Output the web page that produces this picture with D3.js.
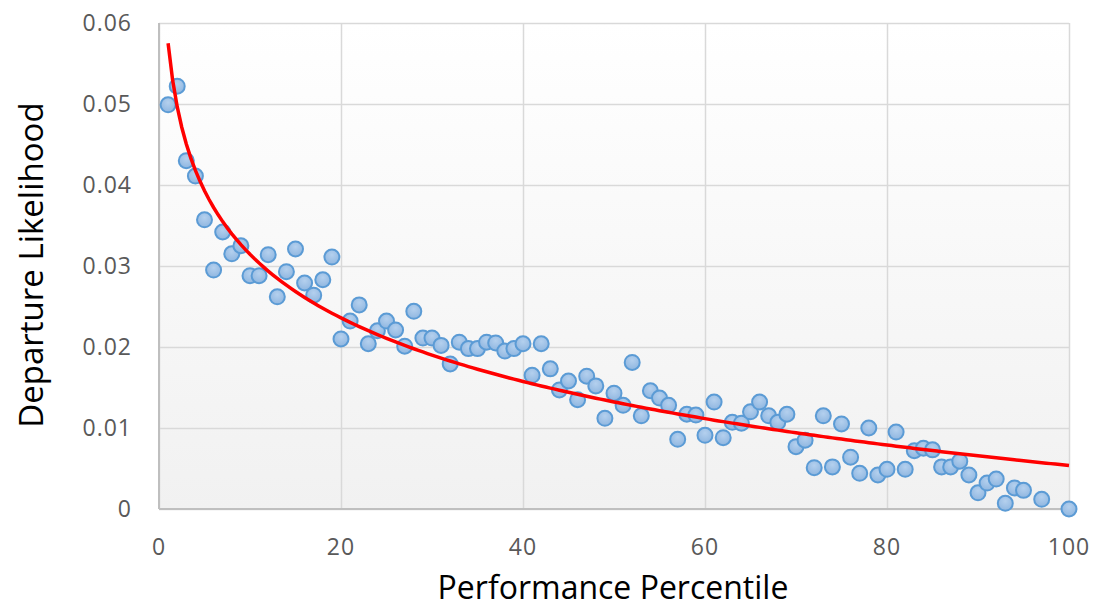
<!DOCTYPE html>
<html>
<head>
<meta charset="utf-8">
<script src="https://cdn.jsdelivr.net/npm/d3@7"></script>
<style>
  body { margin: 0; background: #fff; }
  text { font-family: "Open Sans", sans-serif; }
</style>
</head>
<body>
<div id="chart"></div>
<script>
// percentile (x) and departure likelihood (y)
var percentile = [1,2,3,4,5,6,7,8,9,10,11,12,13,14,15,16,17,18,19,20,
  21,22,23,24,25,26,27,28,29,30,31,32,33,34,35,36,37,38,39,40,
  41,42,43,44,45,46,47,48,49,50,51,52,53,54,55,56,57,58,59,60,
  61,62,63,64,65,66,67,68,69,70,71,72,73,74,75,76,77,78,79,80,
  81,82,83,84,85,86,87,88,89,90,91,92,93,94,95,97,100]
var likelihood = [0.0499,0.0522,0.0430,0.0411,0.0357,0.0295,0.0342,0.0315,0.0325,0.0288,
  0.0288,0.0314,0.0262,0.0293,0.0321,0.0279,0.0264,0.0283,0.0311,0.0210,
  0.0232,0.0252,0.0204,0.0220,0.0232,0.0221,0.0201,0.0244,0.0211,0.0211,
  0.0202,0.0179,0.0206,0.0198,0.0198,0.0206,0.0205,0.0195,0.0198,0.0204,
  0.0165,0.0204,0.0173,0.0147,0.0158,0.0135,0.0164,0.0152,0.0112,0.0143,
  0.0128,0.0181,0.0115,0.0146,0.0137,0.0128,0.0086,0.0117,0.0116,0.0091,
  0.0132,0.0088,0.0107,0.0106,0.0120,0.0132,0.0115,0.0107,0.0117,0.0077,
  0.0085,0.0051,0.0115,0.0052,0.0105,0.0064,0.0044,0.0100,0.0042,0.0049,
  0.0095,0.0049,0.0072,0.0075,0.0073,0.0052,0.0052,0.0059,0.0042,0.0020,
  0.0032,0.0037,0.0007,0.0026,0.0023,0.0012,0.0000]

var xTicks = [0,20,40,60,80,100]
var yTicks = [0,0.01,0.02,0.03,0.04,0.05,0.06]

var width = 1094, height = 609
var margin = {left: 159, right: 25, top: 23, bottom: 100}

var svg = d3.select("#chart").append("svg").attr("width", width).attr("height", height)

var x = d3.scaleLinear().domain([0, 100]).range([margin.left, width - margin.right])
var y = d3.scaleLinear().domain([0, 0.06]).range([height - margin.bottom, margin.top])

// plot background, white to light grey
var grad = svg.append("defs").append("linearGradient").attr("id", "bg")
  .attr("x1", 0).attr("y1", 0).attr("x2", 0).attr("y2", 1)
grad.append("stop").attr("offset", "0%").attr("stop-color", "#ffffff")
grad.append("stop").attr("offset", "100%").attr("stop-color", "#f1f1f1")

svg.append("rect")
  .attr("x", x(0)).attr("y", y(0.06))
  .attr("width", x(100) - x(0)).attr("height", y(0) - y(0.06))
  .attr("fill", "url(#bg)")

// gridlines
svg.append("g").attr("transform", "translate(0," + y(0) + ")")
  .call(d3.axisBottom(x).tickValues(xTicks).tickSize(-(y(0) - y(0.06))).tickFormat(""))
  .call(g => g.select(".domain").remove())
  .selectAll("line").attr("stroke", "#d9d9d9").attr("stroke-width", 1.5)

svg.append("g").attr("transform", "translate(" + x(0) + ",0)")
  .call(d3.axisLeft(y).tickValues(yTicks).tickSize(-(x(100) - x(0))).tickFormat(""))
  .call(g => g.select(".domain").remove())
  .selectAll("line").attr("stroke", "#d9d9d9").attr("stroke-width", 1.5)

// axis lines
svg.append("line").attr("x1", x(0)).attr("x2", x(100)).attr("y1", y(0)).attr("y2", y(0))
  .attr("stroke", "#bfbfbf").attr("stroke-width", 2)
svg.append("line").attr("x1", x(0)).attr("x2", x(0)).attr("y1", y(0)).attr("y2", y(0.06))
  .attr("stroke", "#bfbfbf").attr("stroke-width", 2)

// tick labels
svg.append("g").selectAll("text").data(yTicks).join("text")
  .attr("x", 132).attr("y", d => y(d)).attr("dy", "0.36em")
  .attr("text-anchor", "end").attr("font-size", 23).attr("letter-spacing", 1).attr("fill", "#595959")
  .text(d => d === 0 ? "0" : d3.format(".2f")(d))

svg.append("g").selectAll("text").data(xTicks).join("text")
  .attr("x", d => x(d)).attr("y", 547).attr("dy", "0.36em")
  .attr("text-anchor", "middle").attr("font-size", 23).attr("letter-spacing", 1).attr("fill", "#595959")
  .text(d => d)

// axis titles
svg.append("text").attr("x", x(50) - 1).attr("y", 599)
  .attr("text-anchor", "middle").attr("font-size", 32).attr("fill", "#000")
  .text("Performance Percentile")

svg.append("text").attr("transform", "translate(31," + (y(0.03) - 1) + ") rotate(-90)")
  .attr("dy", "0.36em")
  .attr("text-anchor", "middle").attr("font-size", 33).attr("fill", "#000")
  .text("Departure Likelihood")

// points
var pts = percentile.map((p, i) => ({x: p, y: likelihood[i]}))

var mg = svg.select("defs").append("radialGradient").attr("id", "dot")
  .attr("cx", "50%").attr("cy", "35%").attr("r", "65%")
mg.append("stop").attr("offset", "0%").attr("stop-color", "#b4d0ee")
mg.append("stop").attr("offset", "100%").attr("stop-color", "#8fb6e0")

svg.append("g").selectAll("circle").data(pts).join("circle")
  .attr("cx", d => x(d.x)).attr("cy", d => y(d.y)).attr("r", 7.5)
  .attr("fill", "url(#dot)").attr("stroke", "#5b9bd5").attr("stroke-width", 2)

// logarithmic trendline, least squares on ln(x)
var lx = pts.map(d => Math.log(d.x))
var mx = d3.mean(lx), my = d3.mean(pts, d => d.y)
var b = d3.sum(pts, (d, i) => (lx[i] - mx) * (d.y - my)) / d3.sum(lx, v => (v - mx) * (v - mx))
var a = my - b * mx

var trend = d3.range(1, 100.01, 0.5).map(v => ({x: v, y: a + b * Math.log(v)}))
svg.append("path").datum(trend)
  .attr("d", d3.line().x(d => x(d.x)).y(d => y(d.y)))
  .attr("fill", "none").attr("stroke", "#ff0000").attr("stroke-width", 3.5)
</script>
</body>
</html>
